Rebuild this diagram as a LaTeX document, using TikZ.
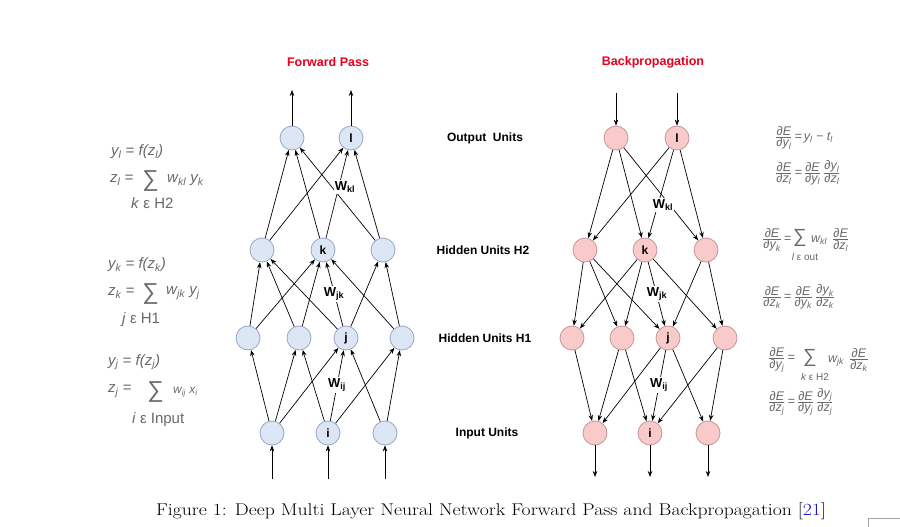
\documentclass[tikz,border=0pt]{standalone}
\usepackage{fontspec}
\usetikzlibrary{arrows.meta}
\newfontfamily\arialf{Liberation Sans}
\definecolor{ffill}{RGB}{220,230,244}
\definecolor{fdraw}{RGB}{150,168,196}
\definecolor{bfill}{RGB}{248,202,202}
\definecolor{bdraw}{RGB}{200,150,150}
\definecolor{titred}{RGB}{230,0,30}
\definecolor{eqgray}{RGB}{105,105,105}
\definecolor{citeblue}{RGB}{20,20,200}
\newcommand\fr[2]{$\frac{\hbox{#1}}{\hbox{#2}}$}
\begin{document}
\begin{tikzpicture}[x=1pt,y=-1pt,
  fwd/.style={circle,draw=fdraw,fill=ffill,line width=0.8pt,minimum size=24pt,inner sep=0pt,font=\arialf\bfseries\fontsize{12}{12}\selectfont},
  bwd/.style={circle,draw=bdraw,fill=bfill,line width=0.8pt,minimum size=24pt,inner sep=0pt,font=\arialf\bfseries\fontsize{12}{12}\selectfont},
  arr/.style={-{Stealth[length=6pt,width=4.5pt]},line width=0.7pt},
  lay/.style={font=\arialf\bfseries\fontsize{12}{14}\selectfont},
  ttl/.style={font=\arialf\bfseries\fontsize{12.5}{14}\selectfont,text=titred},
  wl/.style={font=\arialf\bfseries\fontsize{13}{14}\selectfont,inner sep=1pt},
  eq/.style={anchor=west,font=\arialf\itshape\fontsize{15}{17}\selectfont,text=eqgray,inner sep=0pt},
  eqs/.style={font=\arialf\fontsize{23}{23}\selectfont,text=eqgray,inner sep=0pt},
  eqr/.style={anchor=west,font=\arialf\itshape\fontsize{12.5}{14}\selectfont,text=eqgray,inner sep=0pt},
  eqrs/.style={font=\arialf\fontsize{19}{19}\selectfont,text=eqgray,inner sep=0pt},
  eqrsub/.style={font=\arialf\fontsize{10}{11}\selectfont,text=eqgray,inner sep=0pt}
]
\useasboundingbox (0,0) rectangle (900,527);
\fill[white] (0,0) rectangle (900,527);

% titles
\node[ttl] (tf) at (328,62) {Forward Pass};
\node[ttl] (tb) at (653,62) {Backpropagation};

% layer labels
\node[lay] (lo) at (485,138) {Output\ \ Units};
\node[lay] (l2) at (483,250) {Hidden Units H2};
\node[lay] (l1) at (485,338) {Hidden Units H1};
\node[lay] (li) at (487,433) {Input Units};

% ---------- forward ----------
\node[fwd] (fo1) at (292,138) {};
\node[fwd] (fo2) at (351,138) {l};
\node[fwd] (fh2a) at (262,250) {};
\node[fwd] (fh2b) at (323,250) {k};
\node[fwd] (fh2c) at (383,250) {};
\node[fwd] (fh1a) at (248,338) {};
\node[fwd] (fh1b) at (299,338) {};
\node[fwd] (fh1c) at (346,338) {j};
\node[fwd] (fh1d) at (402,338) {};
\node[fwd] (fi1) at (272,433) {};
\node[fwd] (fi2) at (328,433) {i};
\node[fwd] (fi3) at (385,433) {};

\coordinate (fto1) at (292,90);
\coordinate (fto2) at (351,90);
\coordinate (fbi1) at (272,479);
\coordinate (fbi2) at (328,479);
\coordinate (fbi3) at (385,479);

\draw[arr] (fo1) -- (fto1);
\draw[arr] (fo2) -- (fto2);
\foreach \a in {fh2a,fh2b,fh2c}{\foreach \b in {fo1,fo2}{\draw[arr] (\a) -- (\b);}}
\foreach \a/\b in {fh1a/fh2a,fh1b/fh2a,fh1c/fh2a,fh1a/fh2b,fh1b/fh2b,fh1c/fh2b,fh1d/fh2b,fh1c/fh2c,fh1d/fh2c}{\draw[arr] (\a) -- (\b);}
\foreach \a/\b in {fi1/fh1a,fi1/fh1b,fi1/fh1c,fi2/fh1b,fi2/fh1c,fi2/fh1d,fi3/fh1c,fi3/fh1d}{\draw[arr] (\a) -- (\b);}
\draw[arr] (fbi1) -- (fi1);
\draw[arr] (fbi2) -- (fi2);
\draw[arr] (fbi3) -- (fi3);

\node[wl,fill=white] (fwkl) at (345,187) {W\textsubscript{kl}};
\node[wl,fill=white] (fwjk) at (334,294) {W\textsubscript{jk}};
\node[wl,fill=white] (fwij) at (337,385) {W\textsubscript{ij}};

% ---------- backward ----------
\node[bwd] (bo1) at (616,138) {};
\node[bwd] (bo2) at (677,138) {l};
\node[bwd] (bh2a) at (585,250) {};
\node[bwd] (bh2b) at (645,250) {k};
\node[bwd] (bh2c) at (706,250) {};
\node[bwd] (bh1a) at (572,338) {};
\node[bwd] (bh1b) at (622,338) {};
\node[bwd] (bh1c) at (668,338) {j};
\node[bwd] (bh1d) at (725,338) {};
\node[bwd] (bi1) at (595,433) {};
\node[bwd] (bi2) at (650,433) {i};
\node[bwd] (bi3) at (708,433) {};

\coordinate (bto1) at (616,93);
\coordinate (bto2) at (677,93);
\coordinate (bbi1) at (595,477);
\coordinate (bbi2) at (650,477);
\coordinate (bbi3) at (708,477);

\draw[arr] (bto1) -- (bo1);
\draw[arr] (bto2) -- (bo2);
\foreach \a in {bo1,bo2}{\foreach \b in {bh2a,bh2b,bh2c}{\draw[arr] (\a) -- (\b);}}
\foreach \a/\b in {bh2a/bh1a,bh2a/bh1b,bh2a/bh1c,bh2b/bh1a,bh2b/bh1b,bh2b/bh1c,bh2b/bh1d,bh2c/bh1c,bh2c/bh1d}{\draw[arr] (\a) -- (\b);}
\foreach \a/\b in {bh1a/bi1,bh1b/bi1,bh1c/bi1,bh1b/bi2,bh1c/bi2,bh1d/bi2,bh1c/bi3,bh1d/bi3}{\draw[arr] (\a) -- (\b);}
\draw[arr] (bi1) -- (bbi1);
\draw[arr] (bi2) -- (bbi2);
\draw[arr] (bi3) -- (bbi3);

\node[wl,fill=white] (bwkl) at (663,205) {W\textsubscript{kl}};
\node[wl,fill=white] (bwjk) at (657,294) {W\textsubscript{jk}};
\node[wl,fill=white] (bwij) at (659,385) {W\textsubscript{ij}};

% ---------- left equations ----------
\node[eq] (e1a) at (111,152) {y\textsubscript{l} = f(z\textsubscript{l})};
\node[eq] (e1b) at (110,180) {z\textsubscript{l} =};
\node[eqs] (e1s) at (150.5,181) {∑};
\node[eq] (e1w) at (167,180) {w\textsubscript{kl} y\textsubscript{k}};
\node[eq] (e1c) at (131,203) {k \textup{ε H2}};
\node[eq] (e2a) at (108,265) {y\textsubscript{k} = f(z\textsubscript{k})};
\node[eq] (e2b) at (108,293) {z\textsubscript{k} =};
\node[eqs] (e2s) at (150.5,294) {∑};
\node[eq] (e2w) at (166,293) {w\textsubscript{jk} y\textsubscript{j}};
\node[eq] (e2c) at (122,320) {j \textup{ε H1}};
\node[eq] (e3a) at (108,362) {y\textsubscript{j} = f(z\textsubscript{j})};
\node[eq] (e3b) at (108,391) {z\textsubscript{j} =};
\node[eqs] (e3s) at (155.5,392) {∑};
\node[eq,font=\arialf\itshape\fontsize{12}{14}\selectfont] (e3w) at (173,392) {w\textsubscript{ij} x\textsubscript{i}};
\node[eq] (e3c) at (132,420) {i \textup{ε Input}};

% ---------- right equations ----------
\node[eqr] (r1a) at (775,138) {\fr{∂E}{∂y\textsubscript{l}}\,=\,y\textsubscript{l} − t\textsubscript{l}};
\node[eqr] (r1b) at (775,173) {\fr{∂E}{∂z\textsubscript{l}}\,=\,\fr{∂E}{∂y\textsubscript{l}}\,\fr{∂y\textsubscript{l}}{∂z\textsubscript{l}}};
\node[eqr] (r2a) at (762,240) {\fr{∂E}{∂y\textsubscript{k}}\,=};
\node[eqrs] (r2s) at (800,238) {∑};
\node[eqr] (r2w) at (811,240) {w\textsubscript{kl}\hspace{5pt}\fr{∂E}{∂z\textsubscript{l}}};
\node[eqrsub] (r2b) at (805,257) {\itshape l \upshape ε out};
\node[eqr] (r2c) at (762,297) {\fr{∂E}{∂z\textsubscript{k}}\,=\,\fr{∂E}{∂y\textsubscript{k}}\,\fr{∂y\textsubscript{k}}{∂z\textsubscript{k}}};
\node[eqr] (r3a) at (768,360) {\fr{∂E}{∂y\textsubscript{j}}\,=};
\node[eqrs] (r3s) at (810,358) {∑};
\node[eqr] (r3w) at (828,360) {w\textsubscript{jk}\hspace{5pt}\fr{∂E}{∂z\textsubscript{k}}};
\node[eqrsub] (r3b) at (815,377) {\itshape k \upshape ε H2};
\node[eqr] (r3c) at (768,402) {\fr{∂E}{∂z\textsubscript{j}}\,=\,\fr{∂E}{∂y\textsubscript{j}}\,\fr{∂y\textsubscript{j}}{∂z\textsubscript{j}}};

% caption
\node[font=\fontsize{17}{19}\selectfont] (cap) at (491,511) {\scalebox{1.16}[1]{Figure 1: Deep Multi Layer Neural Network Forward Pass and Backpropagation [\textcolor{citeblue}{21}]}};

% clipped corner box
\draw[gray!70,line width=0.6pt] (868,518) rectangle (906,532);
\end{tikzpicture}
\end{document}
